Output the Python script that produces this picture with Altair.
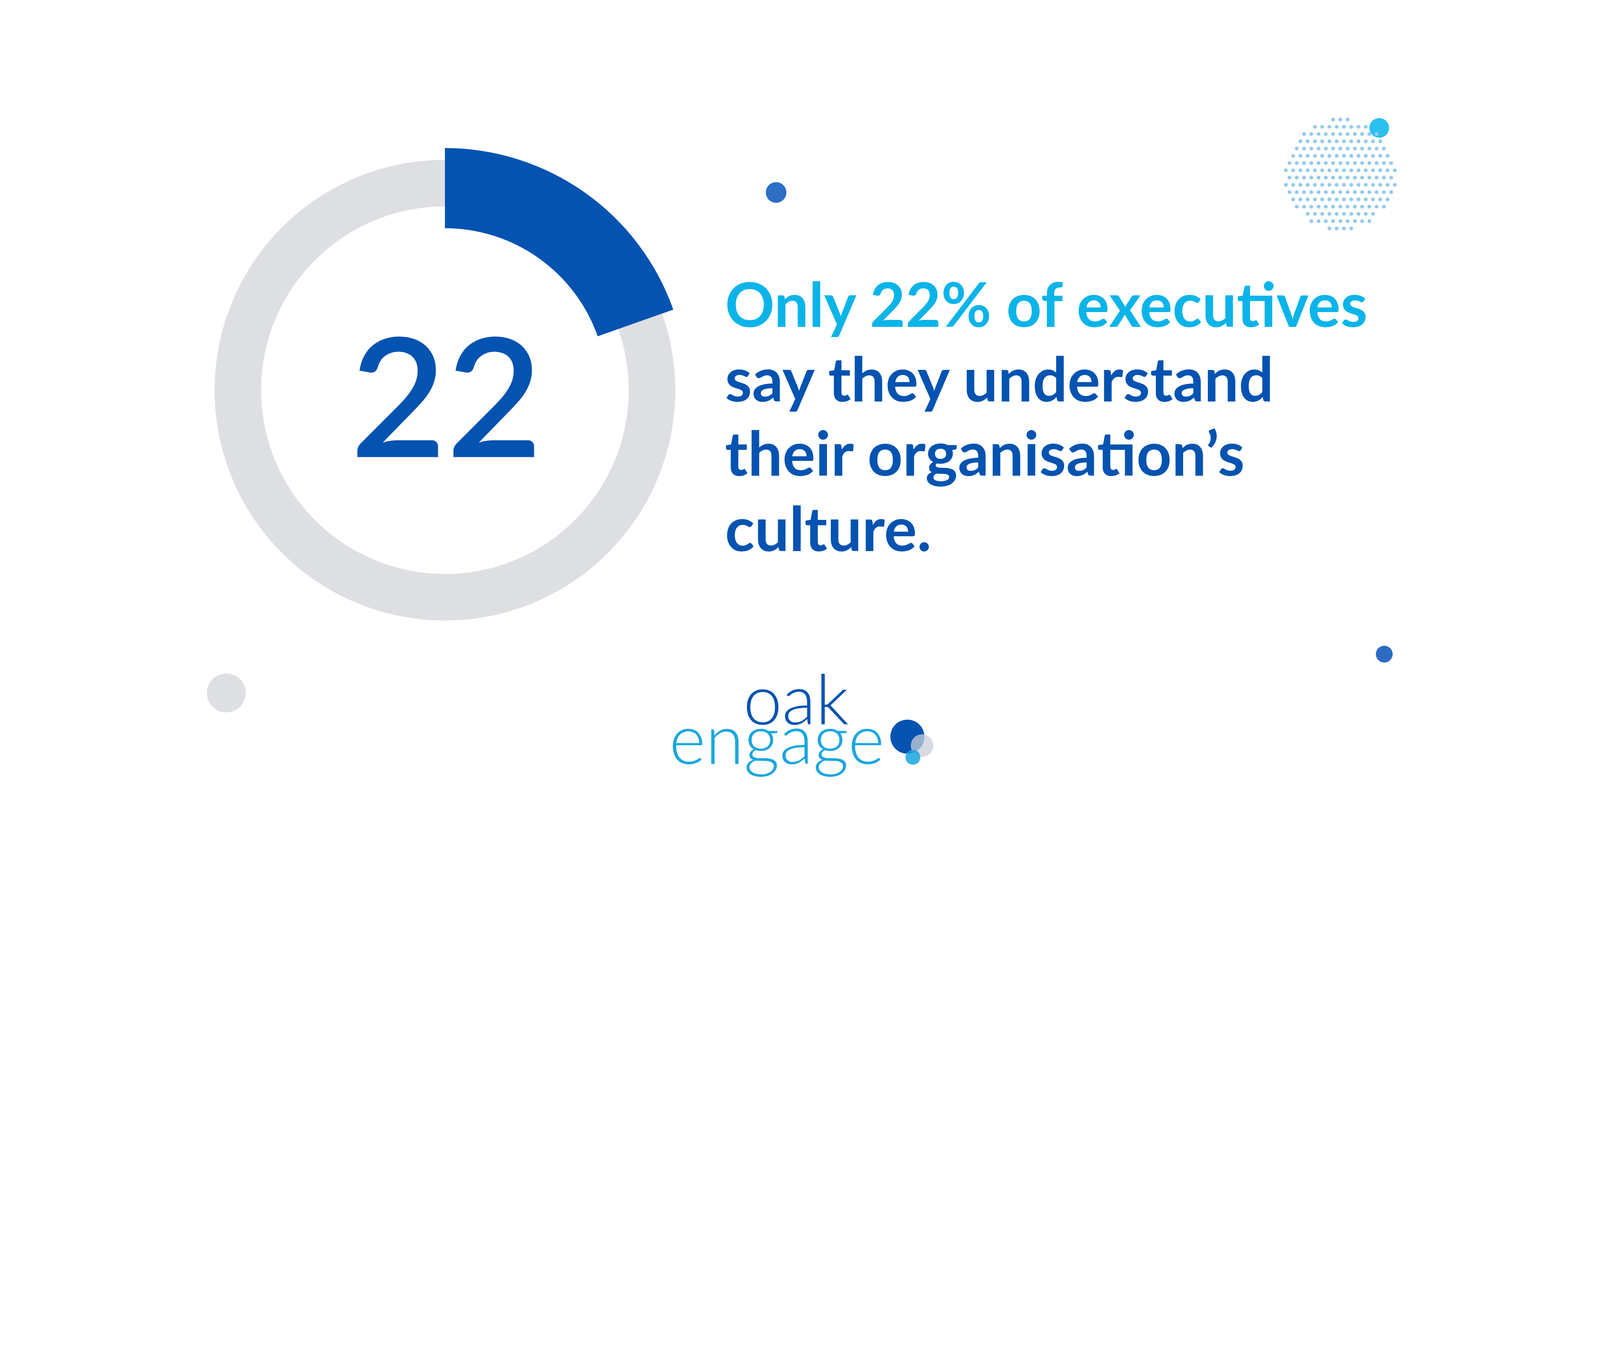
import altair as alt
import pandas as pd
import numpy as np

# ---------------- data ----------------
stat_label = "22"                      # number printed in the centre
arc_parts = ["understand", "rest"]     # ring slices
arc_share = [19.6, 80.4]               # share of the ring drawn in blue (read from arc)
headline = ["Only 22% of executives", "say they understand",
            "their organisation\u2019s", "culture."]
headline_role = ["accent", "main", "main", "main"]
logo_words = ["oak", "engage"]

# ---------------- layout / style ----------------
# All layout numbers below are in reference-picture pixels (6667 x 3500);
# K converts them to CSS pixels of the rendering viewport.
REF_W, REF_H = 6667, 3500
K = REF_W / 4096.0
M = 8
CW = 4096 - 2 * M - 4
CH = int(REF_H / K) - 2 * M - 4
BLUE = "#0453B1"
CYAN = "#0AB4E9"
GREY = "#DEDFE3"
CX, CY = 1854, 1626

x0 = M * K
y0 = M * K
xs = alt.Scale(domain=[x0, x0 + CW * K], nice=False, zero=False)
ys = alt.Scale(domain=[y0 + CH * K, y0], nice=False, zero=False)
X = lambda f: alt.X(f, type="quantitative", scale=xs, axis=None)
Y = lambda f: alt.Y(f, type="quantitative", scale=ys, axis=None)
px = lambda v: v / K

ring_df = pd.DataFrame({"part": arc_parts, "share": arc_share, "idx": [0, 1]})
ring_df["fill"] = [BLUE, "rgba(0,0,0,0)"]
ring_df["cx"] = CX
ring_df["cy"] = CY

grey_ring = alt.Chart(ring_df).mark_arc(radius=px(960), radius2=px(766), color=GREY).encode(
    theta=alt.Theta("share:Q", stack=True),
    order=alt.Order("idx:Q"),
    x=X("cx"), y=Y("cy"),
)
blue_arc = alt.Chart(ring_df).mark_arc(radius=px(1009), radius2=px(675)).encode(
    theta=alt.Theta("share:Q", stack=True),
    order=alt.Order("idx:Q"),
    fill=alt.Fill("fill:N", scale=None),
    x=X("cx"), y=Y("cy"),
)

# decorative circles
deco = pd.DataFrame({
    "x": [3234, 5768, 943, 5747, 3781, 3842, 3804],
    "y": [802, 2726, 2888, 533, 3070, 3107, 3156],
    "r": [43, 35, 81, 41, 71, 47, 31],
    "c": ["#2D6FC5", "#2D6BC2", GREY, "#2BC0EE", BLUE, "#C9CDD9", "#1AA6E0"],
    "o": [1, 1, 1, 1, 1, 0.75, 0.85],
})
deco["s"] = (2 * deco["r"] / K) ** 2
deco_main = deco.iloc[:3]
deco_top = deco.iloc[3:4]
deco_logo = deco.iloc[4:]

def circles(df):
    return alt.Chart(df).mark_circle().encode(
        x=X("x"), y=Y("y"),
        size=alt.Size("s:Q", scale=None),
        color=alt.Color("c:N", scale=None),
        opacity=alt.Opacity("o:Q", scale=None),
    )

# dotted texture circle
gx0, gy0, step, rad = 5585, 725, 30.25, 232
pts = []
for k in range(-8, 8):
    yy = gy0 + (k + 0.5) * step
    off = 0.0 if k % 2 == 0 else 0.5
    for j in range(-9, 9):
        xx = gx0 + (j + off) * step
        if (xx - gx0) ** 2 + (yy - gy0) ** 2 <= rad ** 2:
            pts.append((xx, yy))
dots = pd.DataFrame(pts, columns=["x", "y"])
dot_layer = alt.Chart(dots).mark_circle(color="#97CAEA", opacity=1,
                                        size=(2 * 8.0 / K) ** 2).encode(x=X("x"), y=Y("y"))

# texts
centre = alt.Chart(pd.DataFrame({"t": [stat_label], "x": [1860], "y": [1905]})).mark_text(
    font="Lato", fontWeight=600, fontSize=px(690), align="center", baseline="alphabetic", color=BLUE
).encode(x=X("x"), y=Y("y"), text="t:N")

hl = pd.DataFrame({"t": headline, "role": headline_role,
                   "x": [3021] * 4, "y": [1362, 1673, 1983, 2296]})
hl["c"] = [CYAN if r == "accent" else BLUE for r in hl["role"]]
head = alt.Chart(hl).mark_text(
    font="Lato", fontWeight="bold", fontSize=px(256), align="left", baseline="alphabetic"
).encode(x=X("x"), y=Y("y"), text="t:N", color=alt.Color("c:N", scale=None))

lg = pd.DataFrame({"t": logo_words, "x": [3317, 3237], "y": [3019, 3184],
                   "c": [BLUE, "#1AA6E0"]})
logo = alt.Chart(lg).mark_text(
    font="Lato", fontWeight=300, fontSize=px(290), align="center", baseline="alphabetic"
).encode(x=X("x"), y=Y("y"), text="t:N", color=alt.Color("c:N", scale=None))

chart = alt.layer(
    grey_ring, blue_arc, circles(deco_main), circles(deco_top), dot_layer,
    centre, head, logo, circles(deco_logo)
).properties(
    width=CW, height=CH, padding=0, background="white", autosize="none",
).configure_view(stroke=None)

chart.save("out.html", embed_options={"renderer": "svg", "actions": False})
